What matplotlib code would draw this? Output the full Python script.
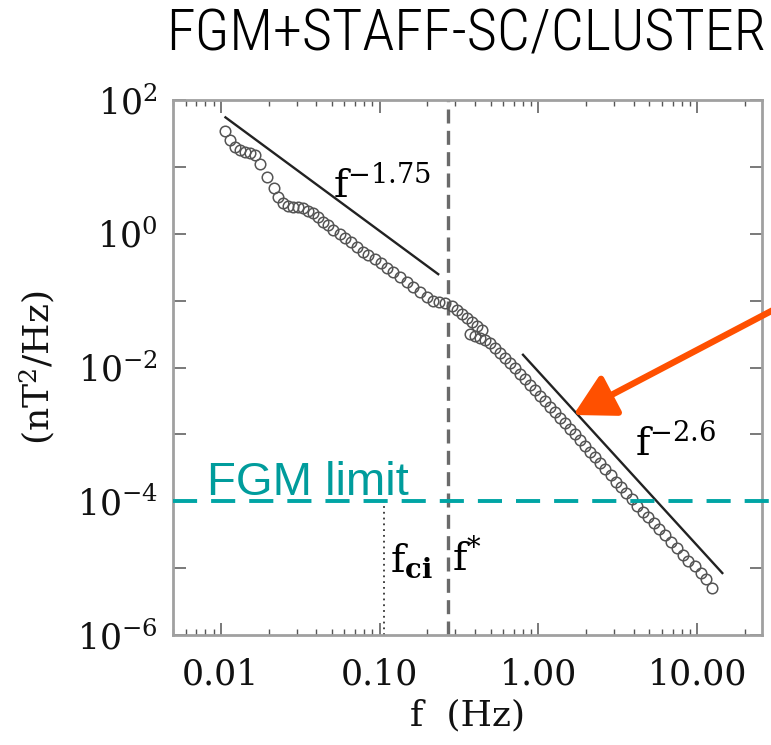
import math
import matplotlib
matplotlib.use("Agg")
import matplotlib.pyplot as plt
from matplotlib import font_manager
from matplotlib.ticker import FixedLocator, FuncFormatter, LogLocator, NullFormatter
import matplotlib.transforms as mtransforms

# Magnetic power spectral density, FGM + STAFF-SC on Cluster
freq_hz = [0.0107, 0.0115, 0.01225, 0.0132, 0.0142, 0.0152, 0.0164, 0.0176, 0.0196, 0.0216,
           0.0230, 0.0247, 0.0266, 0.0286, 0.0307, 0.0330, 0.0355, 0.0382, 0.0410, 0.0441,
           0.0474, 0.0510, 0.0562, 0.0604, 0.0657, 0.0716, 0.0782, 0.0847, 0.0933, 0.1019,
           0.1116, 0.1218, 0.1343, 0.1479, 0.1629, 0.1795, 0.1977, 0.2178, 0.2374, 0.2579,
           0.2843, 0.3069, 0.3301, 0.3548, 0.3815, 0.4102, 0.4412,
           0.3707, 0.3986, 0.4285, 0.4608,
           0.4955, 0.5328, 0.5728, 0.6159, 0.6622, 0.7122, 0.7656, 0.8232, 0.8851, 0.9520,
           1.0233, 1.1005, 1.1830, 1.2722, 1.3677, 1.4711, 1.5812, 1.7006, 1.8281,
           1.966, 2.113, 2.273, 2.443, 2.628, 2.855, 3.083, 3.315, 3.565, 3.873,
           4.198, 4.540, 4.926, 5.351, 5.781, 6.281, 6.820, 7.438, 8.110, 8.802,
           9.700, 10.54, 11.38, 12.36]
psd_nt2_hz = [34.8, 25.2, 20.0, 17.9, 16.9, 16.3, 15.1, 11.0, 7.0, 4.79,
              3.52, 2.86, 2.63, 2.54, 2.49, 2.41, 2.21, 2.02, 1.80, 1.52,
              1.355, 1.14, 0.993, 0.857, 0.746, 0.641, 0.540, 0.482, 0.416, 0.362,
              0.311, 0.271, 0.2284, 0.1923, 0.1618, 0.1362, 0.1147, 0.1000, 0.0966, 0.0914,
              0.0818, 0.0714, 0.0622, 0.0542, 0.0472, 0.0419, 0.0365,
              0.0318, 0.0296, 0.0277, 0.0259,
              0.0233, 0.0196, 0.0165, 0.0139, 0.01172, 0.00969, 0.00802, 0.00664, 0.00549, 0.00455,
              0.00376, 0.00311, 0.002576, 0.002133, 0.001766, 0.001460, 0.001208, 0.001000, 0.000828,
              0.000673, 0.000547, 0.000453, 0.000375, 0.000305, 0.000248, 0.000197, 0.0001625, 0.0001321, 0.0001074,
              8.53e-5, 7.01e-5, 5.78e-5, 4.70e-5, 3.83e-5, 3.15e-5, 2.50e-5, 1.99e-5, 1.58e-5, 1.29e-5,
              1.06e-5, 8.6e-6, 6.86e-6, 5.02e-6]

# Power-law reference slopes: frequency span, level at the first frequency, exponent
inertial_f = [0.0107, 0.234]
inertial_p0 = 55.0
inertial_index = -1.75
dispersive_f = [0.80, 14.4]
dispersive_p0 = 0.0155
dispersive_index = -2.6

# Characteristic frequencies and the FGM noise floor
f_ci = 0.106
f_star = 0.269
fgm_limit = 1e-4

x_ticks = [0.01, 0.1, 1.0, 10.0]
x_tick_labels = ["0.01", "0.10", "1.00", "10.00"]
y_decades = [-6, -5, -4, -3, -2, -1, 0, 1, 2]

plt.rcParams["font.family"] = "DejaVu Serif"
plt.rcParams["mathtext.fontset"] = "dejavuserif"

fig = plt.figure(figsize=(7.71, 7.45), dpi=100)
ax = fig.add_axes([173 / 771, 1 - 635 / 745, 589 / 771, 535 / 745])
ax.set_xscale("log")
ax.set_yscale("log")
ax.set_xlim(0.005, 25.6)
ax.set_ylim(1e-6, 1e2)

# spectrum
ax.plot(freq_hz, psd_nt2_hz, linestyle="none", marker="o", markersize=7.6,
        markerfacecolor="none", markeredgecolor="#555555", markeredgewidth=1.1, zorder=4)

# power-law fits
def power_law(fr, p0, idx):
    return [p0 * (v / fr[0]) ** idx for v in fr]

ax.plot(inertial_f, power_law(inertial_f, inertial_p0, inertial_index),
        color="#222222", lw=1.7, zorder=3)
ax.plot(dispersive_f, power_law(dispersive_f, dispersive_p0, dispersive_index),
        color="#222222", lw=1.7, zorder=3)

# f* (dashed) and ion cyclotron frequency (dotted)
ax.axvline(f_star, color="#6a6a6a", lw=2.4, dashes=(4.2, 2.2), zorder=2)
ax.plot([f_ci, f_ci], [1e-6, fgm_limit * 0.88], color="#333333", lw=1.3,
        linestyle=(0, (1, 2.2)), zorder=2)

# FGM noise floor, running out to the figure edge
blend = mtransforms.blended_transform_factory(ax.transAxes, ax.transData)
ax.plot([0.0, 1.03], [fgm_limit, fgm_limit], transform=blend, color="#00A5A5",
        lw=2.8, dashes=(6.2, 3.6), clip_on=False, zorder=5)
ax.text(0.00816, 1.22e-4, "FGM limit", family="Liberation Sans", fontsize=34,
        color="#009C9C", ha="left", va="baseline", zorder=6)

# labels on the fits and vertical markers
ax.text(0.0508, 3.55, r"$\mathrm{f}^{-1.75}$", fontsize=28, ha="left", va="baseline")
ax.text(4.06, 4.94e-4, r"$\mathrm{f}^{-2.6}$", fontsize=28, ha="left", va="baseline")
ax.text(0.1161, 8.8e-6, r"$\mathrm{f}_{\mathbf{ci}}$", fontsize=28, ha="left", va="baseline")
ax.text(0.2855, 9.4e-6, r"$\mathrm{f}^{*}$", fontsize=28, ha="left", va="baseline")

# ticks
ax.xaxis.set_major_locator(FixedLocator(x_ticks))
ax.xaxis.set_major_formatter(FuncFormatter(
    lambda v, pos: x_tick_labels[x_ticks.index(min(x_ticks, key=lambda t: abs(t - v)))]))
ax.xaxis.set_minor_locator(LogLocator(base=10, subs=range(2, 10), numticks=20))
ax.xaxis.set_minor_formatter(NullFormatter())
ax.yaxis.set_major_locator(FixedLocator([10.0 ** d for d in y_decades]))
ax.yaxis.set_major_formatter(FuncFormatter(
    lambda v, pos: (r"$10^{%d}$" % round(math.log10(v)))
    if round(math.log10(v)) % 2 == 0 else ""))
ax.yaxis.set_minor_locator(FixedLocator([]))

ax.tick_params(which="both", direction="in", top=True, right=True, colors="#555555")
ax.tick_params(which="major", length=9, width=1.1, labelsize=25, labelcolor="#111111")
ax.tick_params(which="minor", length=4.5, width=1.0)
ax.tick_params(axis="x", which="major", pad=16)
ax.tick_params(axis="y", which="major", pad=11)
for sp in ax.spines.values():
    sp.set_color("#a0a0a0")
    sp.set_linewidth(2.0)

ax.set_xlabel("f  (Hz)", fontsize=26, labelpad=5, color="#111111")
ax.set_ylabel(r"$\left(\mathrm{nT}^{2}/\mathrm{Hz}\right)$", fontsize=26, labelpad=14, color="#111111")

# pointer to the sub-ion range
ax.annotate("", xy=(1.66, 1.95e-3), xycoords="data",
            xytext=(1.0246, 0.5957), textcoords="figure fraction",
            arrowprops=dict(arrowstyle="-|>,head_length=1.0,head_width=0.55",
                            mutation_scale=25, color="#FF5000", lw=4.6,
                            shrinkA=0, shrinkB=0),
            annotation_clip=False, zorder=7)

# title, condensed sans when one is available
names = {f.name for f in font_manager.fontManager.ttflist}
title_family = next((n for n in ["Liberation Sans Narrow", "Roboto Condensed",
                                 "Open Sans Condensed", "DejaVu Sans Condensed"]
                     if n in names), "Liberation Sans")
fig.text(766 / 771, 1 - 51 / 745, "FGM+STAFF-SC/CLUSTER", family=title_family,
         fontsize=42, fontweight="light", ha="right", va="baseline", color="black")

fig.savefig("out.png", dpi=100)
